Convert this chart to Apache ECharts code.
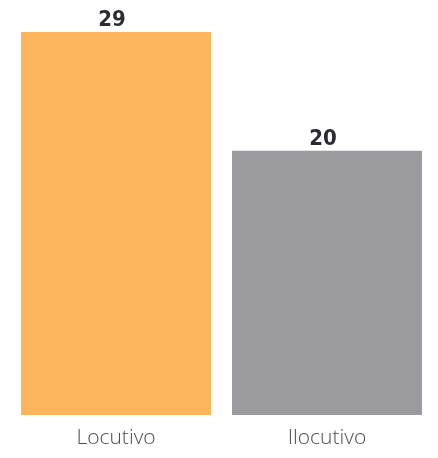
<!DOCTYPE html>
<html>
<head>
<meta charset="utf-8">
<script src="https://cdn.jsdelivr.net/npm/echarts@6/dist/echarts.min.js"></script>
<style>
html,body{margin:0;padding:0;background:#fff;}
#c{width:438px;height:458px;}
</style>
</head>
<body>
<div id="c"></div>
<script>
const categories = ['Locutivo', 'Ilocutivo'];
const values = [29, 20];
const barColors = ['#FDB55B', '#9B9B9F'];

const chart = echarts.init(document.getElementById('c'), null, {renderer: 'canvas'});
chart.setOption({
  animation: false,
  grid: {left: 10.5, right: 5.5, top: 32, bottom: 43, containLabel: false},
  xAxis: {
    type: 'category',
    data: categories,
    axisLine: {show: false},
    axisTick: {show: false},
    axisLabel: {
      margin: 13,
      fontFamily: '"Open Sans", "Noto Sans", sans-serif',
      fontWeight: 300,
      fontSize: 21,
      color: '#4F4F4F'
    }
  },
  yAxis: {
    type: 'value',
    min: 0,
    max: 29,
    show: false,
    splitLine: {show: false}
  },
  series: [{
    type: 'bar',
    barWidth: 190,
    data: values.map((v, i) => ({value: v, itemStyle: {color: barColors[i]}})),
    label: {
      show: true,
      position: 'top',
      distance: 1,
      offset: [-4, 0],
      fontFamily: '"Liberation Sans Narrow", "DejaVu Sans Condensed", sans-serif',
      fontWeight: 'bold',
      fontSize: 22,
      color: '#2B2B36'
    }
  }]
});
</script>
</body>
</html>
